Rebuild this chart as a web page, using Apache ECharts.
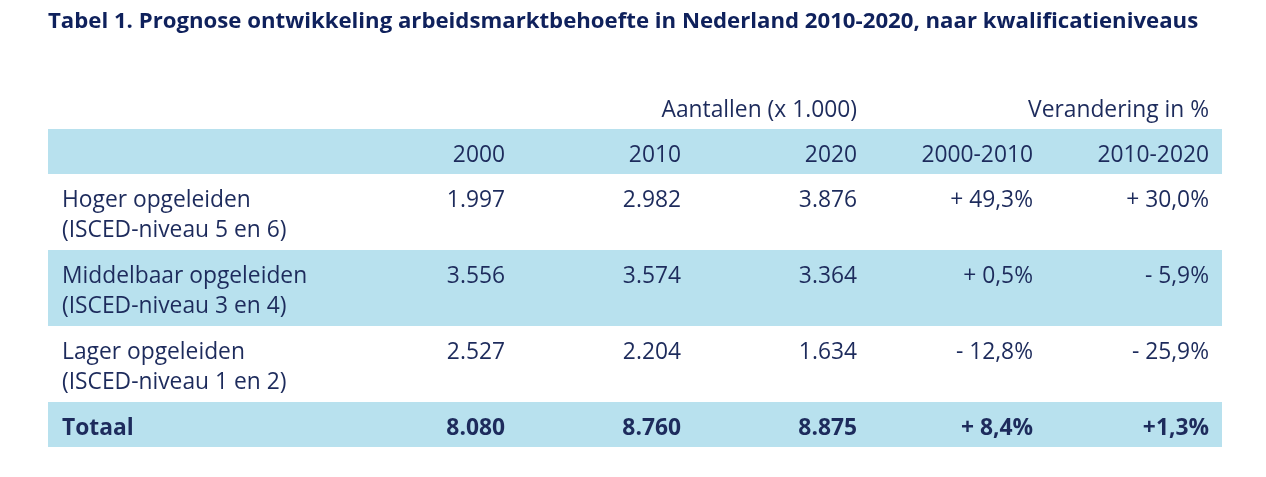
<!DOCTYPE html>
<html><head><meta charset="utf-8">
<script src="https://cdn.jsdelivr.net/npm/echarts@6/dist/echarts.min.js"></script>
<style>html,body{margin:0;padding:0;background:#fff}#c{width:1266px;height:477px}</style>
</head><body><div id="c"></div>
<script>
// ---- data ----
const titleText = 'Tabel 1. Prognose ontwikkeling arbeidsmarktbehoefte in Nederland 2010-2020, naar kwalificatieniveaus';
const groupHeaders = ['', '', '', 'Aantallen (x 1.000)', '', 'Verandering in %'];
const columnHeaders = ['', '2000', '2010', '2020', '2000-2010', '2010-2020'];
const rowLabels = ['Hoger opgeleiden\n(ISCED-niveau 5 en 6)', 'Middelbaar opgeleiden\n(ISCED-niveau 3 en 4)', 'Lager opgeleiden\n(ISCED-niveau 1 en 2)', 'Totaal'];
const values2000 = [1997, 3556, 2527, 8080];
const values2010 = [2982, 3574, 2204, 8760];
const values2020 = [3876, 3364, 1634, 8875];
const change2000to2010 = ['+ 49,3%', '+ 0,5%', '- 12,8%', '+ 8,4%'];
const change2010to2020 = ['+ 30,0%', '- 5,9%', '- 25,9%', '+1,3%'];

// ---- layout / style ----
const colWidths = [294, 176, 176, 176, 176, 176];
const rowHeights = [45, 45, 76, 76, 76, 45];
const bandRows = [1, 3, 5];
const boldRows = [5];
const padX = 13, padLeft = 14, padTop = 11.5, lineH = 30;
const bandColor = '#b8e1ee';
const textColor = '#1d2b5c';
const fontFamily = '"Open Sans", sans-serif';
const fontSize = 22.8;

const totalW = colWidths.reduce((a, b) => a + b, 0);
const totalH = rowHeights.reduce((a, b) => a + b, 0);
const colStart = colWidths.map((w, i) => colWidths.slice(0, i).reduce((a, b) => a + b, 0));
const rowStart = rowHeights.map((h, i) => rowHeights.slice(0, i).reduce((a, b) => a + b, 0));

const fmtNum = v => String(v).replace(/\B(?=(\d{3})+(?!\d))/g, '.');

// build cells: [col, row, text]
const cells = [];
groupHeaders.forEach((t, c) => { if (t) cells.push([c, 0, t]); });
columnHeaders.forEach((t, c) => { if (t) cells.push([c, 1, t]); });
rowLabels.forEach((lab, r) => {
  const row = r + 2;
  cells.push([0, row, lab]);
  cells.push([1, row, fmtNum(values2000[r])]);
  cells.push([2, row, fmtNum(values2010[r])]);
  cells.push([3, row, fmtNum(values2020[r])]);
  cells.push([4, row, change2000to2010[r]]);
  cells.push([5, row, change2010to2020[r]]);
});
const bands = bandRows.map(r => [r]);

const chart = echarts.init(document.getElementById('c'), null, {renderer: 'canvas'});
chart.setOption({
  animation: false,
  backgroundColor: '#fff',
  title: {
    text: titleText, left: 43, top: 6,
    textStyle: {fontFamily: fontFamily, fontSize: 22.2, fontWeight: 'bold', color: '#0f215c'}
  },
  grid: {left: 48, top: 84, width: totalW, height: totalH},
  xAxis: {type: 'value', min: 0, max: totalW, show: false},
  yAxis: {type: 'value', min: 0, max: totalH, inverse: true, show: false},
  series: [
    {
      type: 'custom', coordinateSystem: 'cartesian2d', data: bands, silent: true,
      encode: {x: -1, y: 0},
      renderItem: (params, api) => {
        const r = api.value(0);
        const p0 = api.coord([0, rowStart[r]]);
        const p1 = api.coord([totalW, rowStart[r] + rowHeights[r]]);
        return {type: 'rect', shape: {x: p0[0], y: p0[1], width: p1[0] - p0[0], height: p1[1] - p0[1]},
                style: {fill: bandColor}};
      }
    },
    {
      type: 'custom', coordinateSystem: 'cartesian2d', data: cells, silent: true,
      encode: {x: 0, y: 1},
      renderItem: (params, api) => {
        const c = api.value(0), r = api.value(1);
        const t = cells[params.dataIndex][2];
        const left = c === 0;
        const xv = left ? colStart[c] + padLeft : colStart[c] + colWidths[c] - padX;
        const p = api.coord([xv, rowStart[r]]);
        return {type: 'text', style: {
          text: t, x: p[0], y: p[1] + padTop, align: left ? 'left' : 'right', verticalAlign: 'top',
          lineHeight: lineH, fontFamily: fontFamily, fontSize: fontSize,
          fontWeight: boldRows.includes(r) ? 'bold' : 'normal', fill: textColor
        }};
      }
    }
  ]
});
</script></body></html>
